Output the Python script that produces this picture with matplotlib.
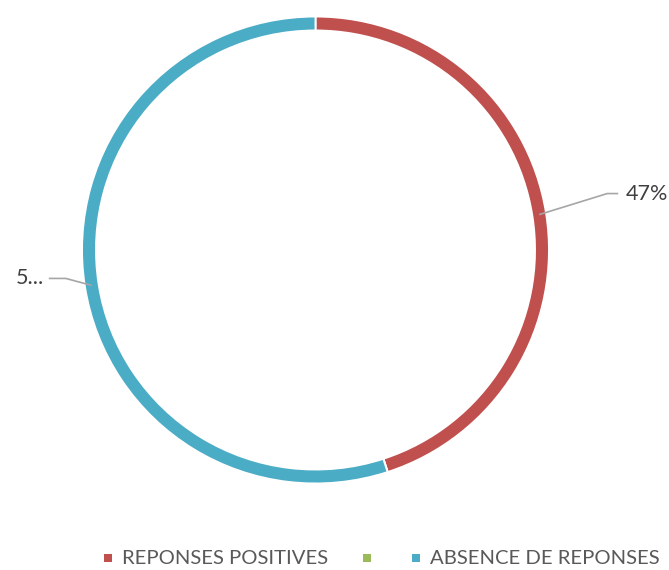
import matplotlib
matplotlib.use('Agg')
import matplotlib.pyplot as plt
import numpy as np

# data
categories = ['REPONSES POSITIVES', '', 'ABSENCE DE REPONSES']
shares = [45, 0, 55]
label_texts = ['47%', '', '5...']
colors = ['#C0504D', '#9BBB59', '#4BACC6']

plt.rcParams['font.family'] = ['Lato', 'DejaVu Sans']

W, H = 669, 570
fig = plt.figure(figsize=(W / 100, H / 100), dpi=100)
ax = fig.add_axes([0, 0, 1, 1])

cx, cy = 315.5, H - 250
r = 233.5
ring = 14

wedges, _ = ax.pie(shares, colors=colors, startangle=90, counterclock=False,
                   center=(cx, cy), radius=r,
                   wedgeprops=dict(width=ring, edgecolor='white', linewidth=1.4))
ax.set_xlim(0, W)
ax.set_ylim(0, H)
ax.set_aspect('equal')
ax.axis('off')

# data labels with leader lines
offsets = {0: (68, 21, 11), 2: (-26, 7, -17)}
for i, w in enumerate(wedges):
    if not label_texts[i]:
        continue
    ang = np.deg2rad((w.theta1 + w.theta2) / 2)
    ax_ = cx + (r - ring / 2) * np.cos(ang)
    ay_ = cy + (r - ring / 2) * np.sin(ang)
    dx, dy, tail = offsets[i]
    ex, ey = ax_ + dx, ay_ + dy
    ax.plot([ax_, ex, ex + tail], [ay_, ey, ey], color='#A6A6A6', lw=1.2,
            solid_capstyle='butt')
    ha = 'left' if tail > 0 else 'right'
    ax.text(ex + tail + (8 if tail > 0 else -5), ey, label_texts[i], ha=ha,
            va='center', fontsize=15.5, color='#404040')

# legend
leg_y = H - 558
leg_x = [104, 363, 412]
for x0, cat, col in zip(leg_x, categories, colors):
    ax.add_patch(plt.Rectangle((x0, leg_y - 4), 8, 8, color=col, lw=0))
    if cat:
        ax.text(x0 + 18, leg_y, cat, ha='left', va='center', fontsize=14.6,
                color='#595959')

fig.savefig('out.png', dpi=100)
